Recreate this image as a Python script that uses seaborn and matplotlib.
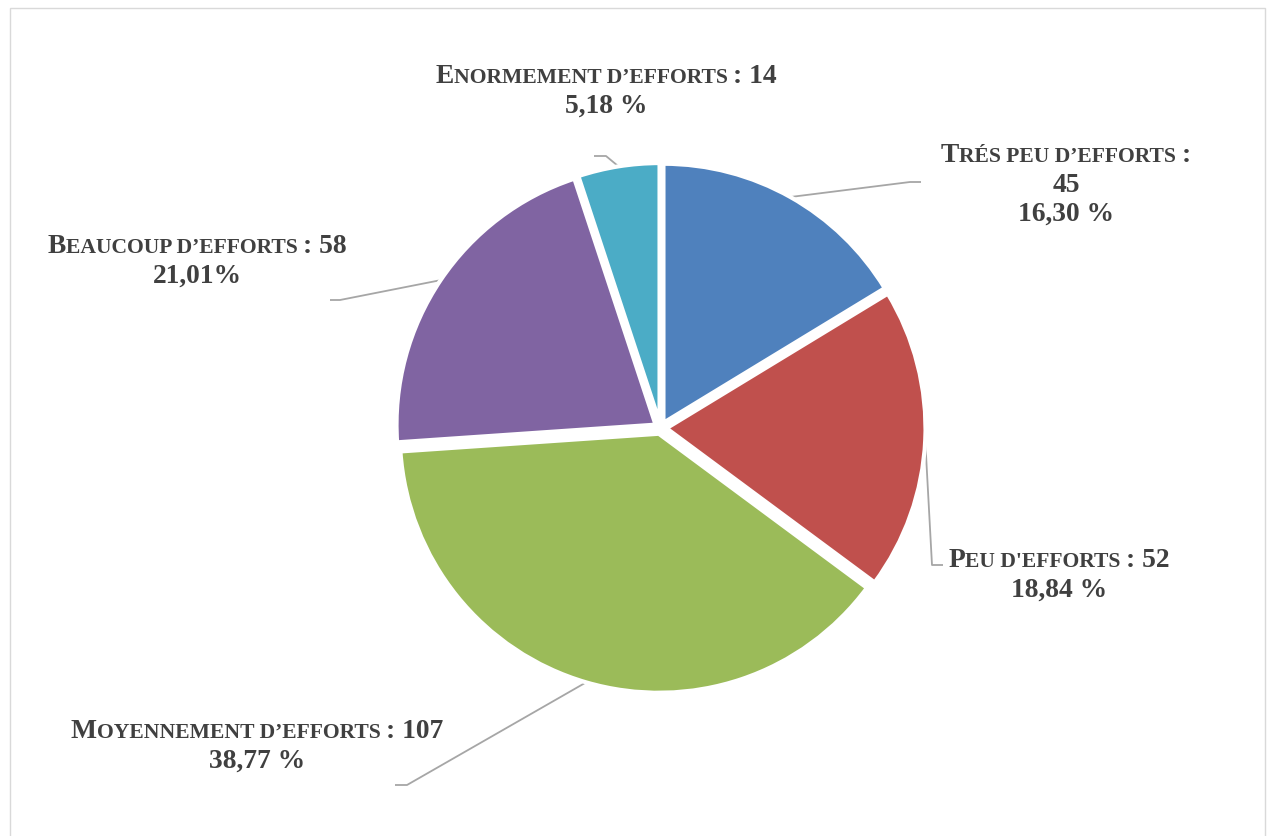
import numpy as np
import matplotlib
matplotlib.use("Agg")
import matplotlib.pyplot as plt
from matplotlib.patches import Rectangle
import seaborn as sns

# Survey answers, in clockwise order starting from twelve o'clock
categories = ["Trés peu d’efforts", "Peu d'efforts", "Moyennement d’efforts",
              "Beaucoup d’efforts", "Enormement d’efforts"]
counts = [45, 52, 107, 58, 14]
pct_labels = ["16,30 %", "18,84 %", "38,77 %", "21,01%", "5,18 %"]
colors = ["#4F81BD", "#C0504D", "#9BBB59", "#8064A2", "#4BACC6"]
count_on_own_line = [True, False, False, False, False]

W, H = 1270, 837
sns.set_style("white")
plt.rcParams["font.family"] = ["Liberation Serif", "DejaVu Serif"]

fig = plt.figure(figsize=(W / 100, H / 100), dpi=100)
ax = fig.add_axes([0, 0, 1, 1])

center = (660.5, H - 429)
radius = 259
explode_px = 6
wedges, _ = ax.pie(counts, colors=colors, startangle=90, counterclock=False,
                   center=center, radius=radius, explode=[explode_px] * len(counts),
                   wedgeprops=dict(edgecolor="white", linewidth=3))
ax.set_xlim(0, W)
ax.set_ylim(0, H)
ax.set_aspect("equal")
ax.axis("off")

# chart-area frame
ax.add_patch(Rectangle((9.5, -20), 1256, H - 8.5 + 20, fill=False,
                       edgecolor="#D9D9D9", linewidth=1, clip_on=False))

# label layout (x centre, first baseline measured from the top)
label_pos = [(1066, 162), (1059, 567), (257, 738), (197, 253), (606, 83)]
line_gap = 29.5
leader_knee = [(910, 183), (932, 566), (407, 786), (340, 301), (606, 157)]
leader_end = [(921, 183), (943, 566), (395, 786), (330, 301), (594, 157)]

TEXT_COLOR = "#404040"
BIG, SMALL = 19.8, 15.6
renderer = fig.canvas.get_renderer()


def text_width(s, size):
    t = ax.text(0, 0, s, fontsize=size, fontweight="bold")
    w = t.get_window_extent(renderer).width
    t.remove()
    return w


def advance(s, size):
    return text_width("|" + s + "|", size) - text_width("||", size)


def small_caps_runs(line):
    runs = []
    for ch in line:
        if ch == " " and runs:
            runs[-1][0] += ch
            continue
        if ch.islower() or ch in "’'":
            key, c = SMALL, ch.upper()
        else:
            key, c = BIG, ch
        if runs and runs[-1][1] == key:
            runs[-1][0] += c
        else:
            runs.append([c, key])
    return runs


def draw_line(line, cx, baseline):
    runs = small_caps_runs(line)
    widths = [advance(s, size) for s, size in runs]
    x = cx - sum(widths) / 2
    for (s, size), w in zip(runs, widths):
        ax.text(x, baseline, s, fontsize=size, fontweight="bold",
                color=TEXT_COLOR, ha="left", va="baseline")
        x += w


for i, w in enumerate(wedges):
    name, n, pct = categories[i], counts[i], pct_labels[i]
    if count_on_own_line[i]:
        lines = [f"{name} :", f"{n}", pct]
    else:
        lines = [f"{name} : {n}", pct]
    cx, by = label_pos[i]
    for k, line in enumerate(lines):
        draw_line(line, cx, H - (by + k * line_gap))

    # leader line from the slice rim to the label
    theta = np.deg2rad((w.theta1 + w.theta2) / 2)
    sx = w.center[0] + w.r * np.cos(theta)
    sy = w.center[1] + w.r * np.sin(theta)
    kx, ky = leader_knee[i]
    ex, ey = leader_end[i]
    ax.plot([sx, kx, ex], [sy, H - ky, H - ey], color="#A6A6A6",
            linewidth=1.3, solid_capstyle="butt", zorder=0.5)

fig.savefig("out.png", dpi=100, facecolor="white")
